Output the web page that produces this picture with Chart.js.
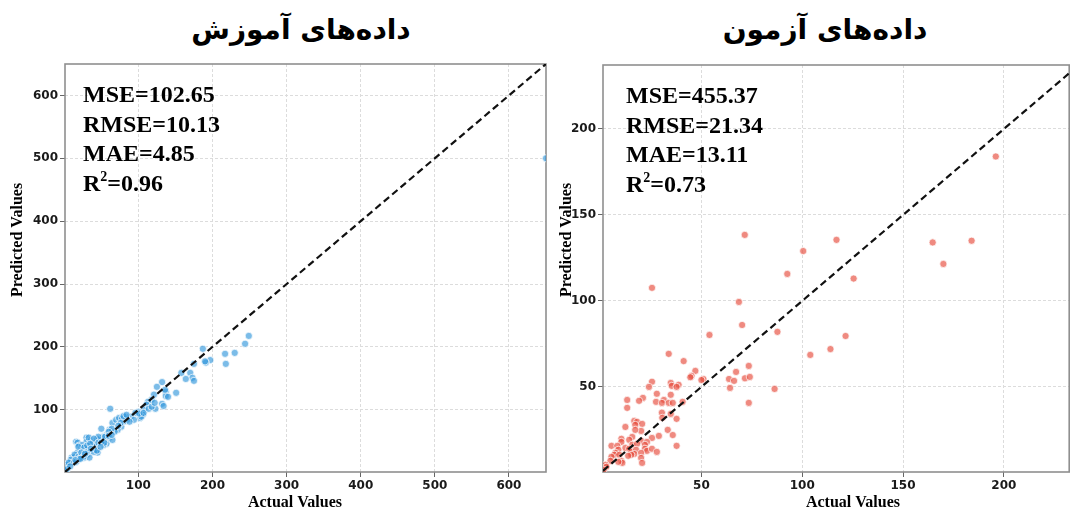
<!DOCTYPE html>
<html>
<head>
<meta charset="utf-8">
<script src="https://cdn.jsdelivr.net/npm/chart.js@4.4.1/dist/chart.umd.min.js"></script>
<style>
  body { margin: 0; background: #fff; width: 1074px; height: 513px; overflow: hidden; position: relative; }
  .title { position: absolute; top: 8px; width: 400px; text-align: center; direction: rtl;
           font-family: "DejaVu Sans", sans-serif; font-weight: bold; font-size: 28px; line-height: 44px; color: #000; }
  canvas { position: absolute; top: 0; }
</style>
</head>
<body>
<div class="title" style="left:101px">داده‌های آموزش</div>
<div class="title" style="left:625px">داده‌های آزمون</div>
<canvas id="train" width="552" height="513" style="left:0"></canvas>
<canvas id="test" width="522" height="513" style="left:552px"></canvas>
<script>
// MARK: - Data
const trainActual = [62, 187, 249, 244, 217, 230, 218, 197, 191, 190, 175, 170, 173, 175, 164, 158, 151, 137, 137, 132,
  134, 132, 125, 121, 118, 113, 111, 123, 108, 106, 102, 100, 96, 90, 85, 80, 83, 77, 72, 68,
  61, 57, 52, 48, 44, 50, 65, 70, 74, 78, 80, 84, 16, 18, 20, 23, 30, 30, 36, 38,
  44, 46, 25, 30, 34, 41, 44, 45, 18, 23, 27, 31, 34, 10, 12, 7, 3, 5, 14, 57,
  53, 61, 65, 104, 101, 107, 114, 118, 122, 140, 136, 94, 88, 76, 73, 64, 60, 55, 60, 64,
  33, 40, 46, 24, 19, 27, 31, 35, 50, 54, 30, 40, 44, 49, 14, 19, 23, 26, 9, 6,
  13, 16, 20, 2, 4, 8, 15, 22, 28, 36, 650];
const trainPredicted = [101.6, 197, 217.5, 205, 189, 190.5, 173, 179, 175, 177, 173, 158.7, 150.8, 146, 149, 158.7, 127, 128.6, 122, 109.5,
  106, 144, 136.5, 124, 116, 112.7, 108, 101.6, 100, 92, 87, 96.8, 95, 89, 84, 81, 89, 73, 68, 65,
  68, 60, 57, 52, 47.6, 69.8, 79, 84, 87, 86, 90, 92, 49, 47.6, 43, 40, 55.6, 49, 52, 47.6,
  54, 57, 40, 36.5, 33, 41, 36.5, 32, 32, 27, 24, 28.6, 24, 24, 17.5, 16, 9.5, 12.7, 25, 46,
  44, 55.6, 52, 89, 94, 95, 101.6, 104.8, 111, 120.6, 131.7, 84, 81, 79, 74.6, 69.8, 65, 57, 58.7, 60,
  55.6, 54, 47.6, 44, 41, 40, 43, 46, 47.6, 47.6, 32, 33, 35, 41, 28.6, 25, 32, 25, 20.6, 16,
  16, 17.5, 22, 4, 6, 10, 20, 22, 30, 38, 500];

const testActual = [196, 100.5, 117, 125.5, 164.7, 170, 184, 104, 114, 121.5, 71.5, 92.6, 25.5, 68.6, 70.2, 54, 87.7, 33.8, 41.2, 47,
  45.1, 44.5, 51, 50, 63.7, 67.2, 66.2, 71.6, 74, 73.5, 64.2, 86.3, 73.5, 25.5, 24, 34.8, 35.3, 38.7, 37.7, 27.9,
  34.8, 31.4, 27.5, 30.4, 33.8, 35.8, 40.7, 21, 30.4, 30.6, 37.7, 13.2, 19.1, 13.2, 34.8, 16.7, 18.1, 20.6, 17.2, 12.3,
  20.1, 17.2, 33.3, 35.8, 28.9, 25.5, 15.7, 14.2, 20.1, 10.3, 10.3, 23, 22, 37.7, 5.4, 8.3, 12.3, 15.7, 18.1, 14.2,
  15.2, 17.6, 16.7, 22, 23, 25.5, 20.1, 20.1, 20.6, 8.8, 7.4, 6.9, 9.3, 5.4, 4.9, 10.3, 10.8, 8.8, 2.5, 2.9,
  1.5, 15.2, 13.7, 27.9];
const testPredicted = [184, 129, 135.5, 113, 134, 121.5, 135, 68.6, 72, 79.6, 138.4, 115.7, 107.6, 99.4, 86, 80.2, 82, 69.2, 65, 59.3,
  56.4, 55.6, 54.6, 54, 54.6, 58.7, 53.5, 55, 55.8, 62.2, 49.4, 48.8, 40.7, 53, 50, 52.3, 50.6, 51.2, 50, 46,
  45.4, 42.4, 41.3, 40.7, 40.7, 40.7, 41.3, 43.6, 35, 32, 31.4, 42.4, 41.9, 37.8, 34.3, 30.2, 29.7, 28.5, 27.9, 26.7,
  24.4, 25, 25, 22, 21.5, 20.3, 20.9, 19.2, 18.6, 19.8, 18, 18, 16.3, 15.7, 15.7, 15.7, 14.5, 16.3, 16.9, 14,
  12.2, 13.4, 11, 14, 12.8, 14, 11.6, 8.7, 5.8, 13.4, 11.6, 10.5, 10.5, 9.3, 7, 7, 5.8, 6.4, 4.7, 3.5,
  1.7, 10.5, 9.9, 12.2];

const trainTicks = [100, 200, 300, 400, 500, 600];
const testTicks = [50, 100, 150, 200];
const trainXRange = [1, 650];
const trainYRange = [1, 650];
const testXRange = [1.2, 232.4];
const testYRange = [0.5, 237.2];

const statNames = ['MSE', 'RMSE', 'MAE', 'R'];
const trainStats = ['102.65', '10.13', '4.85', '0.96'];
const testStats = ['455.37', '21.34', '13.11', '0.73'];

// MARK: - Drawing
const extras = {
  id: 'extras',
  beforeDatasetsDraw(chart, args, o) {
    const ctx = chart.ctx, a = chart.chartArea;
    ctx.save();
    ctx.strokeStyle = '#8f8f8f';
    ctx.lineWidth = 1.6;
    ctx.strokeRect(a.left, a.top, a.right - a.left, a.bottom - a.top);
    ctx.restore();
  },
  afterDraw(chart, args, o) {
    const ctx = chart.ctx;
    ctx.save();
    ctx.fillStyle = '#000';
    ctx.textBaseline = 'alphabetic';
    ctx.textAlign = 'left';
    for (let i = 0; i < statNames.length; i++) {
      let x = o.statX;
      let y = o.statY + i * 29.5;
      ctx.font = 'bold 24px "Liberation Serif"';
      ctx.fillText(statNames[i], x, y);
      x += ctx.measureText(statNames[i]).width;
      if (statNames[i] === 'R') {
        ctx.font = 'bold 14px "Liberation Serif"';
        ctx.fillText('2', x, y - 10);
        x += ctx.measureText('2').width;
        ctx.font = 'bold 24px "Liberation Serif"';
      }
      ctx.fillText('=' + o.stats[i], x, y);
    }
    ctx.font = 'bold 16px "Liberation Serif"';
    ctx.textAlign = 'center';
    ctx.fillText('Actual Values', o.xTitleX, 507);
    ctx.translate(o.yTitleX, 240);
    ctx.rotate(-Math.PI / 2);
    ctx.textBaseline = 'middle';
    ctx.fillText('Predicted Values', 0, 0);
    ctx.restore();
  }
};

function axis(range, ticks, fit) {
  return {
    type: 'linear',
    min: range[0],
    max: range[1],
    afterBuildTicks: function(s) { s.ticks = ticks.map(function(v) { return { value: v }; }); },
    afterFit: fit,
    grid: { color: '#dcdcdc', lineWidth: 1, tickColor: '#666', tickLength: 5, tickWidth: 1, tickBorderDash: [] },
    border: { display: false, dash: [3, 2] },
    ticks: { color: '#1a1a1a', padding: 2, font: { family: 'DejaVu Sans', size: 12, weight: 'bold' } }
  };
}

function makeChart(id, actual, predicted, color, xRange, yRange, ticks, yWidth, padRight, padTop, plugOpts) {
  const points = actual.map(function(x, i) { return { x: x, y: predicted[i] }; });
  const lo = Math.max(xRange[0], yRange[0]);
  const hi = Math.min(xRange[1], yRange[1]);
  new Chart(document.getElementById(id), {
    type: 'scatter',
    data: {
      datasets: [{
        type: 'line',
        data: [{ x: lo, y: lo }, { x: hi, y: hi }],
        borderColor: '#111',
        borderWidth: 2.2,
        borderDash: [7, 4],
        pointRadius: 0,
        fill: false
      }, {
        data: points,
        backgroundColor: color,
        borderColor: 'rgba(255,255,255,0.9)',
        borderWidth: 0.8,
        pointRadius: 3.6
      }]
    },
    options: {
      responsive: false,
      animation: false,
      devicePixelRatio: 1,
      layout: { padding: { top: padTop, right: padRight, left: 0, bottom: 0 } },
      plugins: { legend: { display: false }, tooltip: { enabled: false }, extras: plugOpts },
      scales: {
        x: axis(xRange, ticks, function(s) { s.height = 41; }),
        y: axis(yRange, ticks, function(s) { s.width = yWidth; })
      }
    },
    plugins: [extras]
  });
}

makeChart('train', trainActual, trainPredicted, 'rgba(52,152,219,0.65)', trainXRange, trainYRange, trainTicks, 65, 6, 64,
  { stats: trainStats, statX: 83, statY: 102, xTitleX: 295, yTitleX: 18 });
makeChart('test', testActual, testPredicted, 'rgba(231,76,60,0.65)', testXRange, testYRange, testTicks, 51, 1, 65,
  { stats: testStats, statX: 74, statY: 103, xTitleX: 301, yTitleX: 15 });
</script>
</body>
</html>
